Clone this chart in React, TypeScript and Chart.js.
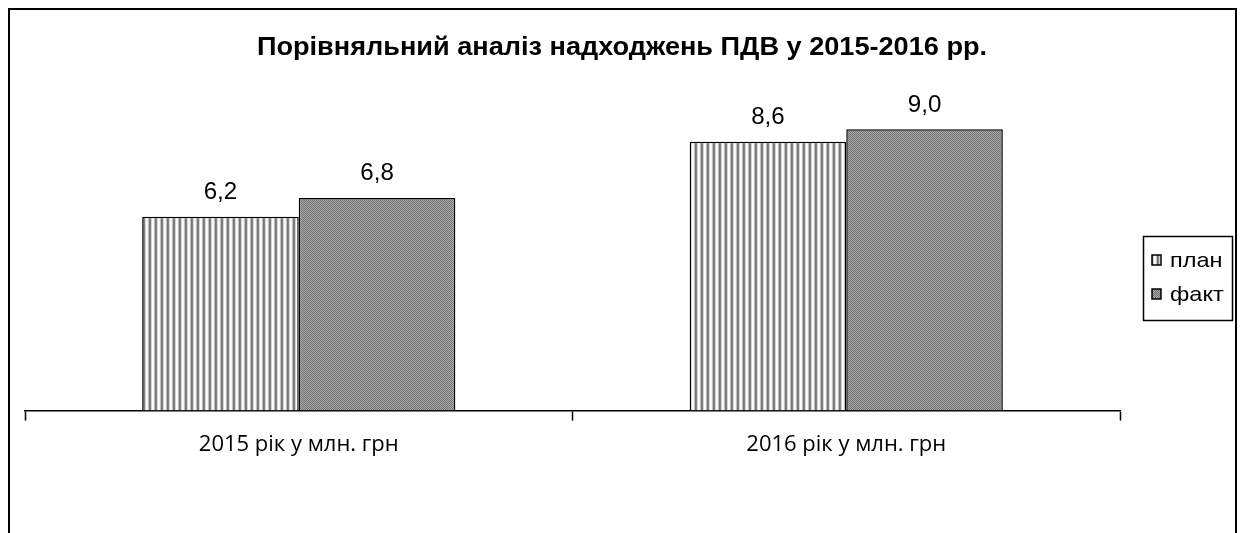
import React, { useEffect, useRef } from "react";
import { Chart, registerables } from "chart.js";

Chart.register(...registerables);

const categories = ["2015 рік у млн. грн", "2016 рік у млн. грн"];
const planValues = [6.2, 8.6];
const factValues = [6.8, 9.0];
const seriesNames = ["план", "факт"];
const titleText = "Порівняльний аналіз надходжень ПДВ у 2015-2016 рр.";

const CANVAS_W = 1229;
const CANVAS_H = 560;

function makeStripePattern(): CanvasPattern | string {
  const c = document.createElement("canvas");
  c.width = 6;
  c.height = 6;
  const ctx = c.getContext("2d");
  if (!ctx) return "#bbb";
  const cols = ["#ffffff", "#f4f4f4", "#c0c0c0", "#767676", "#868686", "#d2d2d2"];
  cols.forEach((col, i) => {
    ctx.fillStyle = col;
    ctx.fillRect(i, 0, 1, 6);
  });
  return ctx.createPattern(c, "repeat") || "#bbb";
}

function makeDitherPattern(): CanvasPattern | string {
  const c = document.createElement("canvas");
  c.width = 4;
  c.height = 4;
  const ctx = c.getContext("2d");
  if (!ctx) return "#8c8c8c";
  for (let y = 0; y < 4; y++) {
    for (let x = 0; x < 4; x++) {
      ctx.fillStyle = (x + y) % 2 === 0 ? "#767676" : "#a4a4a4";
      ctx.fillRect(x, y, 1, 1);
    }
  }
  return ctx.createPattern(c, "repeat") || "#8c8c8c";
}

function drawStretchedText(ctx: CanvasRenderingContext2D, text: string, x: number, y: number, sx: number, align: CanvasTextAlign) {
  ctx.save();
  ctx.translate(x, y);
  ctx.scale(sx, 1);
  ctx.textAlign = align;
  ctx.fillText(text, 0, 0);
  ctx.restore();
}

const framePlugin = {
  id: "frame",
  beforeDraw(chart: any) {
    const ctx = chart.ctx;
    ctx.save();
    ctx.fillStyle = "#ffffff";
    ctx.fillRect(0, 0, chart.width, chart.height);
    ctx.restore();
  },
  afterDraw(chart: any) {
    const ctx = chart.ctx;
    ctx.save();
    ctx.strokeStyle = "#000";
    ctx.lineWidth = 2;
    ctx.strokeRect(1, 1, chart.width - 2, chart.height + 10);
    ctx.fillStyle = "#000";
    ctx.font = "bold 25px 'Liberation Sans', Arial, sans-serif";
    ctx.textBaseline = "middle";
    drawStretchedText(ctx, titleText, 614, 40, 1.085, "center");
    ctx.restore();
  },
};

const valueLabelPlugin = {
  id: "valueLabels",
  afterDatasetsDraw(chart: any) {
    const ctx = chart.ctx;
    ctx.save();
    ctx.fillStyle = "#000";
    ctx.font = "23px 'Liberation Sans', Arial, sans-serif";
    ctx.textBaseline = "middle";
    chart.data.datasets.forEach((ds: any, di: number) => {
      const meta = chart.getDatasetMeta(di);
      meta.data.forEach((bar: any, i: number) => {
        const v = ds.data[i] as number;
        drawStretchedText(ctx, v.toFixed(1).replace(".", ","), bar.x, bar.y - 24, 1.05, "center");
      });
    });
    ctx.restore();
  },
};

const legendPlugin = {
  id: "boxLegend",
  afterDraw(chart: any) {
    const ctx = chart.ctx;
    const x0 = 1135;
    const y0 = 228;
    const w = 89;
    const h = 84;
    ctx.save();
    ctx.strokeStyle = "#000";
    ctx.lineWidth = 1.5;
    ctx.strokeRect(x0 + 0.5, y0 + 0.5, w, h);
    ctx.font = "21px 'Liberation Sans', Arial, sans-serif";
    ctx.textBaseline = "middle";
    chart.data.datasets.forEach((ds: any, di: number) => {
      const cy = y0 + 24 + di * 34;
      ctx.fillStyle = ds.backgroundColor;
      ctx.fillRect(x0 + 9, cy - 5, 9, 10);
      ctx.lineWidth = 1.5;
      ctx.strokeStyle = "#000";
      ctx.strokeRect(x0 + 9, cy - 5, 9, 10);
      ctx.fillStyle = "#000";
      drawStretchedText(ctx, ds.label, x0 + 27, cy + 1, 1.12, "left");
    });
    ctx.restore();
  },
};

export default function App() {
  const ref = useRef<HTMLCanvasElement | null>(null);

  useEffect(() => {
    if (!ref.current) return;
    const chart = new Chart(ref.current, {
      type: "bar",
      data: {
        labels: categories,
        datasets: [
          {
            label: seriesNames[0],
            data: planValues,
            backgroundColor: makeStripePattern() as any,
            borderColor: "#000",
            borderWidth: 1.5,
          },
          {
            label: seriesNames[1],
            data: factValues,
            backgroundColor: makeDitherPattern() as any,
            borderColor: "#000",
            borderWidth: 1.5,
          },
        ],
      },
      options: {
        animation: false,
        responsive: false,
        maintainAspectRatio: false,
        devicePixelRatio: 1,
        layout: {
          padding: { left: 17, right: 117, top: 90, bottom: 99 },
        },
        datasets: {
          bar: {
            categoryPercentage: 0.572,
            barPercentage: 1,
          },
        },
        plugins: {
          legend: { display: false },
          tooltip: { enabled: false },
          title: { display: false },
        },
        scales: {
          x: {
            offset: true,
            grid: {
              offset: true,
              drawOnChartArea: false,
              drawTicks: true,
              tickLength: 10,
              tickWidth: 1.5,
              tickColor: "#000",
            },
            border: { display: true, color: "#000", width: 1.5 },
            ticks: {
              color: "#000",
              padding: 11,
              font: { family: "'Open Sans', sans-serif", size: 22 },
            },
          },
          y: {
            display: false,
            min: 0,
            max: 10,
          },
        },
      },
      plugins: [framePlugin, valueLabelPlugin, legendPlugin],
    });
    return () => chart.destroy();
  }, []);

  return (
    <div
      style={{
        position: "fixed",
        left: 8,
        top: 8,
        width: CANVAS_W,
        height: 525,
        overflow: "hidden",
      }}
    >
      <canvas ref={ref} width={CANVAS_W} height={CANVAS_H} style={{ display: "block" }} />
    </div>
  );
}
